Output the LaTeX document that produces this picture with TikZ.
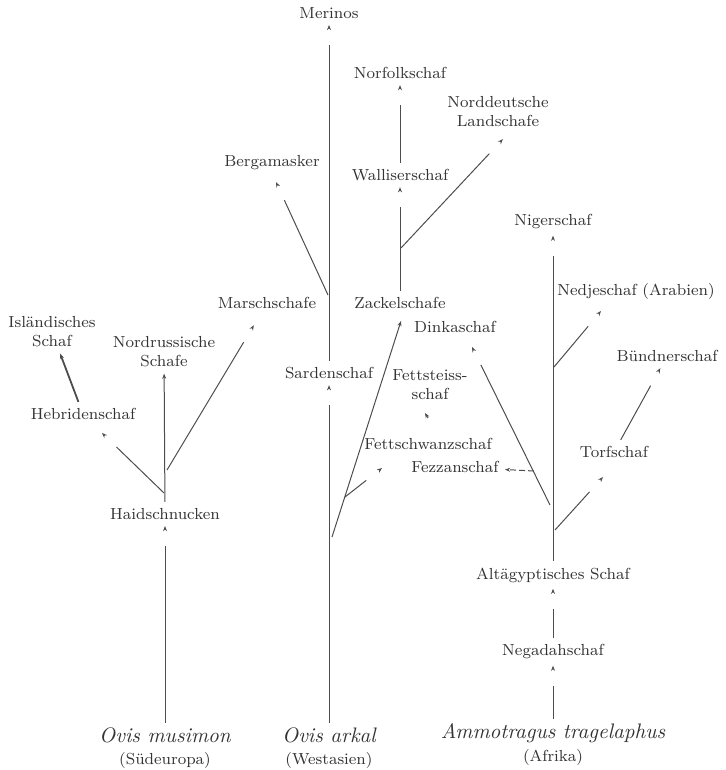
\documentclass[tikz,border=0pt]{standalone}
\usepackage{fontspec}
\usepackage{tikz}
\usetikzlibrary{arrows.meta,decorations.markings}
\definecolor{ink}{HTML}{333333}
\definecolor{stroke}{HTML}{4D4D4D}

\begin{document}
\begin{tikzpicture}[x=0.5pt, y=-0.5pt,
  breed/.style={font={\fontsize{8}{9.5}\selectfont\addfontfeature{LetterSpace=6}}, text=ink,
                align=center, inner sep=3pt},
  species/.style={font={\fontsize{10.5}{12}\selectfont\itshape\addfontfeature{LetterSpace=6}}, text=ink, inner sep=2pt},
  origin/.style={font={\fontsize{8}{9.5}\selectfont\addfontfeature{LetterSpace=3}}, text=ink, inner sep=1pt},
  arr/.style={draw=stroke, line width=0.5pt, shorten >=10pt,
              postaction={decorate, decoration={markings,
                mark=at position 1 with {\arrow{Stealth[length=2.6pt, width=2pt]}}}}},
  arrclose/.style={draw=stroke, line width=0.5pt, -{Stealth[length=2.6pt, width=2pt]}},
  fezarr/.style={arrclose, dash pattern=on 3pt off 1.5pt}
]
\useasboundingbox (0,0) rectangle (726,770);

% Ovis musimon and its breeds
\node[species] (musimon) at (165,735) {Ovis musimon};
\node[origin] (suedeuropa) at (165,760) {(Südeuropa)};
\node[breed] (haid) at (165,514) {Haidschnucken};
\node[breed] (nordruss) at (164,352) {Nordrussische\\Schafe};
\node[breed] (hebrid) at (83,414) {Hebridenschaf};
\node[breed] (island) at (52,332) {Isländisches\\Schaf};
\node[breed] (marsch) at (267,303) {Marschschafe};
\coordinate (hebridFork) at (164,493);
\coordinate (hebridTip) at (102,433);
\coordinate (marschFork) at (167,470);
\coordinate (marschTip) at (254,325);
\draw[arr] (musimon) -- (haid);
\draw[arrclose] (haid) -- (nordruss);
\draw[arr] (hebridFork) -- (hebridTip);
\draw[arr] (marschFork) -- (marschTip);
\draw[arrclose, line width=0.9pt] (hebrid) -- (island);

% Ovis arkal and its breeds
\node[species] (arkal) at (329,735) {Ovis arkal};
\node[origin] (westasien) at (329,760) {(Westasien)};
\node[breed] (sarden) at (329,373) {Sardenschaf};
\node[breed] (merinos) at (329,13) {Merinos};
\node[breed] (bergam) at (272,163) {Bergamasker};
\node[breed] (zackel) at (400,303) {Zackelschafe};
\node[breed] (walliser) at (400,175) {Walliserschaf};
\node[breed] (norfolk) at (400,73) {Norfolkschaf};
\node[breed] (norddt) at (498,112) {Norddeutsche\\Landschafe};
\node[breed] (fettsteiss) at (430,385) {Fettsteiss-\\schaf};
\node[breed] (fettschw) at (428,444) {Fettschwanzschaf};
\coordinate (bergamFork) at (328,295);
\coordinate (bergamTip) at (276,182);
\coordinate (zackelFork) at (332,537);
\coordinate (zackelTip) at (401,321);
\coordinate (fettschwFork) at (345,497);
\coordinate (fettschwTip) at (382,468);
\coordinate (norddtFork) at (401,248);
\coordinate (norddtTip) at (503,139);
\coordinate (fettsteissTail) at (428,418);
\coordinate (fettsteissTip) at (425,413);
\draw[arr] (arkal) -- (sarden);
\draw[arr] (sarden) -- (merinos);
\draw[arr] (bergamFork) -- (bergamTip);
\draw[arrclose] (zackelFork) -- (zackelTip);
\draw[arr] (fettschwFork) -- (fettschwTip);
\draw[arr] (zackel) -- (walliser);
\draw[arr] (walliser) -- (norfolk);
\draw[arr] (norddtFork) -- (norddtTip);
\draw[arrclose] (fettsteissTail) -- (fettsteissTip);

% Ammotragus tragelaphus and its breeds
\node[species] (ammo) at (553,733) {Ammotragus tragelaphus};
\node[origin] (afrika) at (553,757) {(Afrika)};
\node[breed] (negadah) at (553,652) {Negadahschaf};
\node[breed] (altaeg) at (553,575) {Altägyptisches Schaf};
\node[breed] (niger) at (553,222) {Nigerschaf};
\node[breed] (nedje) at (636,291) {Nedjeschaf (Arabien)};
\node[breed] (dinka) at (455,327) {Dinkaschaf};
\node[breed] (buendner) at (667,356) {Bündnerschaf};
\node[breed] (torf) at (614,452) {Torfschaf};
\node[breed] (fezzan) at (455,467) {Fezzanschaf};
\coordinate (dinkaFork) at (550,505);
\coordinate (dinkaTip) at (472,347);
\coordinate (fezzanFork) at (534,471);
\coordinate (torfFork) at (555,530);
\coordinate (torfTip) at (603,477);
\coordinate (nedjeFork) at (554,367);
\coordinate (nedjeTip) at (601,311);
\draw[arr] (ammo) -- (negadah);
\draw[arr] (negadah) -- (altaeg);
\draw[arr] (altaeg) -- (niger);
\draw[arr] (dinkaFork) -- (dinkaTip);
\draw[fezarr] (fezzanFork) -- (fezzan);
\draw[arr] (torfFork) -- (torfTip);
\draw[arr] (torf) -- (buendner);
\draw[arr] (nedjeFork) -- (nedjeTip);
\end{tikzpicture}
\end{document}
